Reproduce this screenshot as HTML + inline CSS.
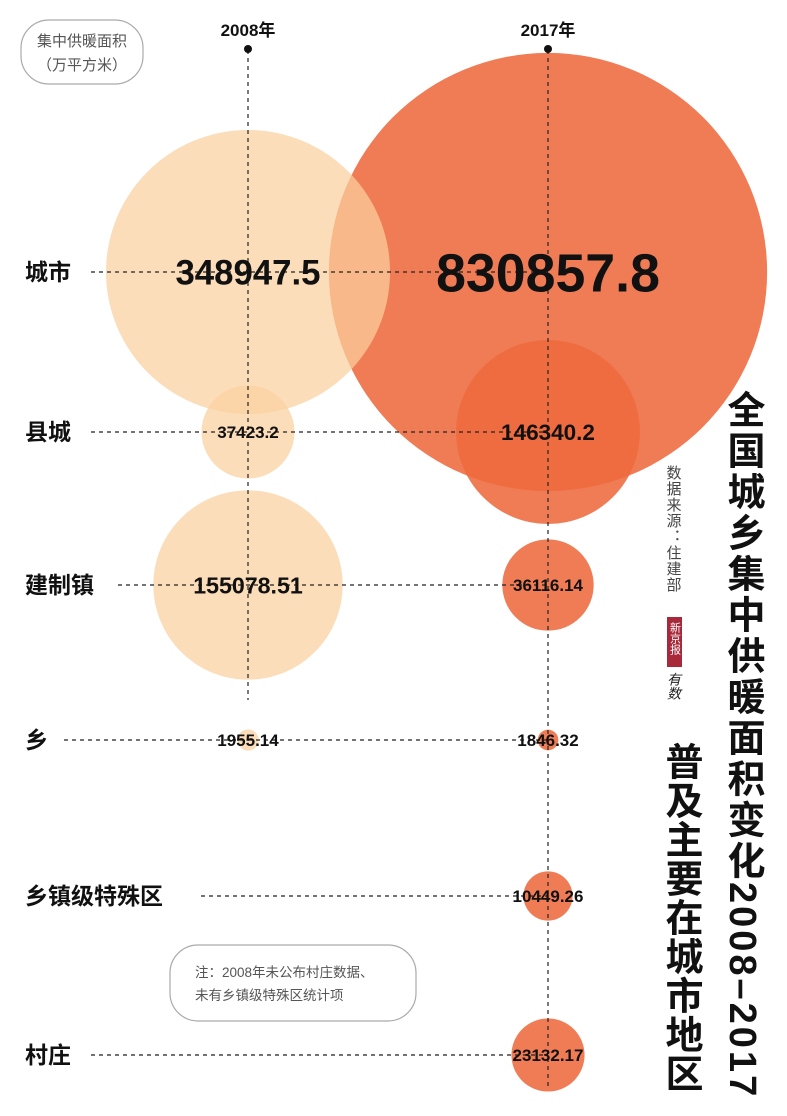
<!DOCTYPE html>
<html><head><meta charset="utf-8">
<style>
html,body{margin:0;padding:0;background:#fff;}
svg{display:block;}
.cjk{font-family:"Liberation Sans","Noto Sans CJK SC",sans-serif;}
</style></head>
<body>
<svg id="chart" width="787" height="1116" viewBox="0 0 787 1116" xmlns="http://www.w3.org/2000/svg" class="cjk">
  <rect x="0" y="0" width="787" height="1116" fill="#fff"/>
  <g id="bubbles"></g>
  <g id="lines"></g>
  <g id="labels"></g>

  <rect x="21" y="20" width="122" height="64" rx="28" fill="none" stroke="#aaa" stroke-width="1.2"/>
  <text x="82" y="46" font-size="15" fill="#555" text-anchor="middle">集中供暖面积</text>
  <text x="82" y="70" font-size="15" fill="#555" text-anchor="middle">（万平方米）</text>

  <rect x="170" y="945" width="246" height="76" rx="28" fill="#fff" stroke="#aaa" stroke-width="1.2"/>
  <text x="195" y="977" font-size="13.5" fill="#555">注：2008年未公布村庄数据、</text>
  <text x="195" y="1000" font-size="13.5" fill="#555">未有乡镇级特殊区统计项</text>

  <text x="742" y="390" font-size="38" font-weight="bold" fill="#111" style="writing-mode:vertical-rl;letter-spacing:3px">全国城乡集中供暖面积变化2008–2017</text>
  <text x="680" y="742" font-size="38" font-weight="bold" fill="#111" style="writing-mode:vertical-rl;letter-spacing:1px">普及主要在城市地区</text>
  <text x="673" y="465" font-size="15" fill="#444" style="writing-mode:vertical-rl;letter-spacing:1px">数据来源：住建部</text>
  <rect x="667" y="617" width="15" height="50" fill="#a82a3a"/>
  <text x="674.5" y="622" font-size="11" fill="#fff" style="writing-mode:vertical-rl">新京报</text>
  <text x="674" y="672" font-size="14" fill="#222" font-style="italic" style="writing-mode:vertical-rl">有数</text>
</svg>
<script>
const categories = ["城市","县城","建制镇","乡","乡镇级特殊区","村庄"];
const years = ["2008年","2017年"];
const values2008 = [348947.5, 37423.2, 155078.51, 1955.14, null, null];
const values2017 = [830857.8, 146340.2, 36116.14, 1846.32, 10449.26, 23132.17];
const labels2008 = ["348947.5","37423.2","155078.51","1955.14","",""];
const labels2017 = ["830857.8","146340.2","36116.14","1846.32","10449.26","23132.17"];

const NS = "http://www.w3.org/2000/svg";
const rowY = [272, 432, 585, 740, 896, 1055];
const colX = [248, 548];
const labelEnd = [85, 85, 112, 58, 195, 85];
const k = 142 / Math.sqrt(348947.5);
function rScale(v){ return k * Math.sqrt(v); }
function yPos(i){ return rowY[i]; }
function fontFor(r){ return Math.max(17, Math.min(54, r * 0.245)); }

const gB = document.getElementById('bubbles');
const gL = document.getElementById('lines');
const gT = document.getElementById('labels');
function mk(tag, attrs, parent){ const e=document.createElementNS(NS,tag); for(const a in attrs) e.setAttribute(a,attrs[a]); parent.appendChild(e); return e; }

values2017.forEach((v,i)=>{
  if(v==null) return;
  const c = mk('circle',{cx:colX[1],cy:yPos(i),r:rScale(v),fill:'#ee6a3e','fill-opacity':0.88},gB);
  
  
});
values2008.forEach((v,i)=>{
  if(v==null) return;
  const c = mk('circle',{cx:colX[0],cy:yPos(i),r:rScale(v),fill:'#fbd0a0','fill-opacity':0.72},gB);
  
  
});

colX.forEach((x,j)=>{
  const l = mk('line',{x1:x,y1:50,x2:x,y2:j?1090:700,stroke:'#222','stroke-width':1.2,'stroke-dasharray':'4 4'},gL);
  
  
  const d = mk('circle',{cx:x,cy:49,r:4,fill:'#111'},gL);
  
  
  const t = mk('text',{x:x,y:36,'font-size':17,'font-weight':'bold','text-anchor':'middle',fill:'#111'},gT);
  t.textContent = years[j];
  
  
});

categories.forEach((c,i)=>{
  const y = yPos(i);
  const l = mk('line',{x1:labelEnd[i]+6,y1:y,x2:548,y2:y,stroke:'#222','stroke-width':1.2,'stroke-dasharray':'4 4'},gL);
  
  
  const t = mk('text',{x:25,y:y+8,'font-size':23,'font-weight':'bold',fill:'#111'},gT);
  t.textContent = c;
  
  
});

function valueText(x,y,v,txt,i,yr){
  if(v==null) return;
  const r = rScale(v);
  const fs = fontFor(r);
  const t = mk('text',{x:x,y:y+fs*0.36,'font-size':fs,'font-weight':'bold','text-anchor':'middle',fill:'#111'},gT);
  t.textContent = txt;
  
  
}
values2008.forEach((v,i)=>valueText(colX[0],yPos(i),v,labels2008[i],i,'2008'));
values2017.forEach((v,i)=>valueText(colX[1],yPos(i),v,labels2017[i],i,'2017'));
</script>
</body></html>
